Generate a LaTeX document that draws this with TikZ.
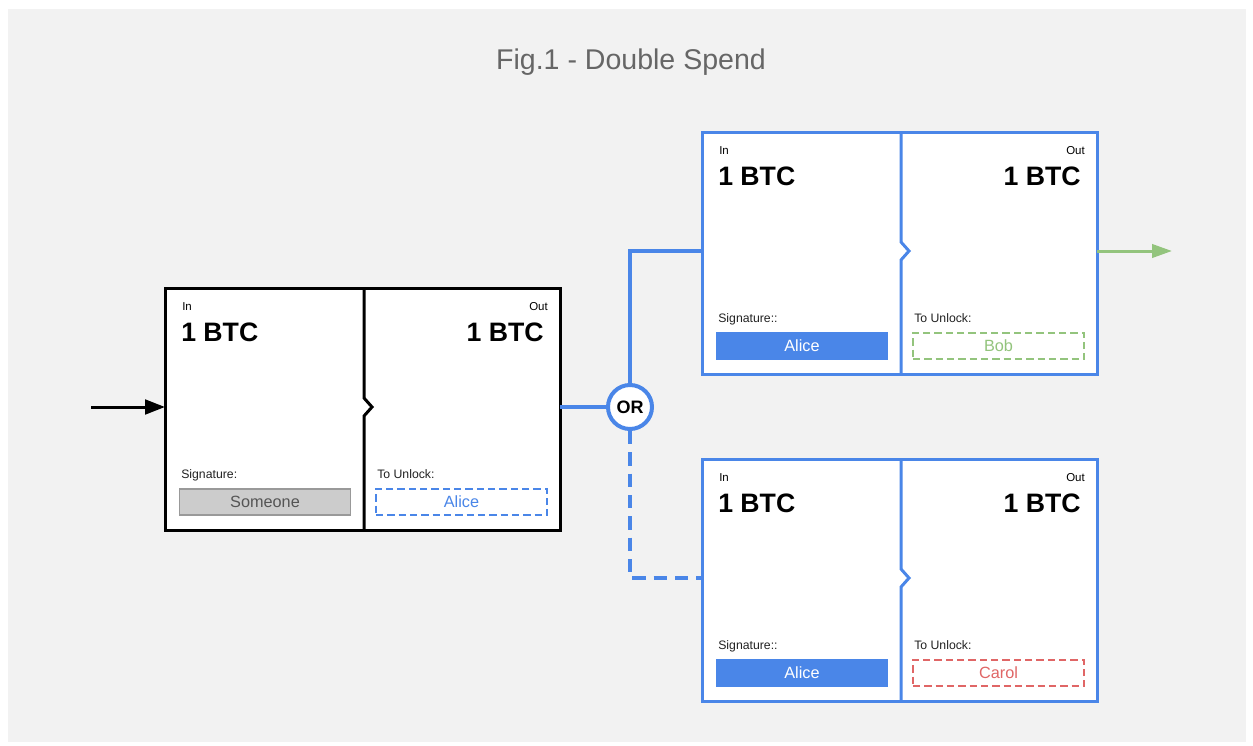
\documentclass[tikz,border=0pt]{standalone}
\usepackage{fontspec}
\setmainfont{Liberation Sans}
\usetikzlibrary{arrows.meta}
\definecolor{bgc}{HTML}{F2F2F2}
\definecolor{gblue}{HTML}{4A86E8}
\definecolor{ggreen}{HTML}{93C47D}
\definecolor{gred}{HTML}{E06666}
\definecolor{sigfill}{HTML}{CCCCCC}
\definecolor{sigdraw}{HTML}{999999}
\definecolor{sigtext}{HTML}{555555}
\definecolor{titlec}{HTML}{666666}
\definecolor{lblc}{HTML}{222222}
\tikzset{
  frame/.style={rectangle, fill=white, line width=2.25pt, minimum width=296.25pt, minimum height=181.5pt, inner sep=0pt, outer sep=0pt},
  divline/.style={line width=2.25pt, line join=miter},
  smalltxt/.style={inner sep=0pt, text=black, font=\fontsize{8.6}{10}\selectfont},
  btctxt/.style={inner sep=0pt, text=black, font=\fontsize{20}{24}\selectfont\bfseries},
  lbltxt/.style={inner sep=0pt, text=lblc, font=\fontsize{9.2}{11}\selectfont},
  boxbase/.style={rectangle, inner sep=0pt, minimum width=128.5pt, minimum height=19.5pt, font=\fontsize{12.2}{14}\selectfont},
  graysig/.style={boxbase, fill=sigfill, draw=sigdraw, line width=1.1pt, text=sigtext},
  bluesig/.style={boxbase, fill=gblue, draw=gblue, line width=0.8pt, text=white},
  unlockbox/.style={boxbase, fill=white, draw=#1, text=#1, line width=1.1pt, dash pattern=on 5.5pt off 3pt},
  blueline/.style={line width=2.4pt, draw=gblue},
  ornode/.style={circle, fill=white, draw=gblue, line width=3pt, minimum size=33pt, inner sep=0pt, font=\fontsize{13.5}{15}\selectfont\bfseries},
}
\newcommand\txbox[9]{%
\begin{scope}[shift={(#2,#3)}]
\node[frame, draw=#4, anchor=north west] (#1) at (0,0) {};
\draw[divline, draw=#4] (199,0) -- (199,110) -- (207,119) -- (199,128) -- (199,242);
\node[smalltxt, anchor=base west] (#1-in) at (17,22) {In};
\node[btctxt, anchor=base west] (#1-inval) at (16,53) {1 BTC};
\node[smalltxt, anchor=base east] (#1-out) at (383,22) {Out};
\node[btctxt, anchor=base east] (#1-outval) at (379,53) {1 BTC};
\node[lbltxt, anchor=base west] (#1-siglbl) at (16,190) {#5};
\node[#6] (#1-sig) at (100,214) {#7};
\node[lbltxt, anchor=base west] (#1-unlbl) at (212,190) {To Unlock:};
\node[#8] (#1-unl) at (296.5,214) {#9};
\coordinate (#1-w) at (0,119);
\coordinate (#1-e) at (395,119);
\end{scope}}
\begin{document}
\begin{tikzpicture}[x=0.75pt, y=-0.75pt]
\useasboundingbox (0,0) rectangle (1253,746);
\fill[white] (0,0) rectangle (1253,746);
\fill[bgc] (8,9) rectangle (1246,742);
\node[text=titlec, font=\fontsize{21.4}{26}\selectfont, inner sep=0pt] (title) at (631,62) {Fig.1 - Double Spend};

\txbox{L}{165}{288}{black}{Signature:}{graysig}{Someone}{unlockbox=gblue}{Alice}
\txbox{T}{702}{132}{gblue}{Signature::}{bluesig}{Alice}{unlockbox=ggreen}{Bob}
\txbox{B}{702}{459}{gblue}{Signature::}{bluesig}{Alice}{unlockbox=gred}{Carol}

\node[ornode] (or) at (630,407) {OR};
\coordinate (start) at (91,407);
\coordinate (finish) at (1172,251);

\draw[line width=2.25pt, -{Triangle[length=15pt, width=11pt]}] (start) -- (L-w);
\draw[blueline] (L-e) -- (or);
\draw[blueline, line join=miter] (or.north) |- (T-w);
\draw[blueline, dash pattern=on 10pt off 6pt] (or.south) |- (B-w);
\draw[line width=2.25pt, draw=ggreen, -{Triangle[length=15pt, width=10pt]}] (T-e) -- (finish);
\end{tikzpicture}
\end{document}
